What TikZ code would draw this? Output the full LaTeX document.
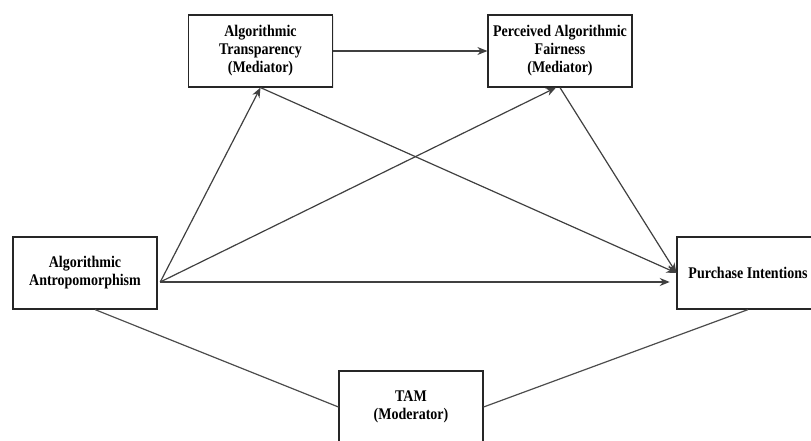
\documentclass[tikz,border=0pt]{standalone}
\usepackage{fontspec}
\setmainfont{Liberation Serif}
\newfontfamily\boxfont[FakeStretch=0.86]{Liberation Serif}
\usetikzlibrary{arrows.meta,shadows}
\tikzset{
  box/.style={draw=black!85, line width=0.9pt, fill=white, minimum width=108pt, minimum height=54pt,
    inner sep=2pt, align=center, font=\boxfont\bfseries\fontsize{12.2}{13.5}\selectfont,
    drop shadow={opacity=0.18, shadow xshift=1pt, shadow yshift=-1pt}},
  arr/.style={draw=black!75, line width=0.9pt, -{Stealth[length=7.5pt,width=6pt]}},
  link/.style={draw=black!70, line width=0.9pt}
}
\begin{document}
\begin{tikzpicture}[x=0.75pt,y=-0.75pt]
\path[use as bounding box] (0,0) rectangle (811,441);
\clip (0,0) rectangle (811,441);
\node[box] (A) at (85,273) {Algorithmic\\Antropomorphism};
\node[box] (T) at (260.5,51) {Algorithmic\\Transparency\\(Mediator)};
\node[box] (F) at (560,51) {Perceived Algorithmic\\Fairness\\(Mediator)};
\node[box, minimum width=106.5pt] (P) at (748,273) {Purchase Intentions};
\node[box] (M) at (411,407) {TAM\\(Moderator)};
\coordinate (Aout) at ([xshift=2pt,yshift=-6.75pt]A.east);
\draw[arr] (Aout) -- (T.south);
\draw[arr] (Aout) -- ([xshift=-3pt]F.south);
\draw[arr, shorten >=5pt] (Aout) -- (Aout -| P.west);
\draw[arr] (T.south) -- (P.west);
\draw[arr] (F.south) -- (P.west);
\draw[arr] (T.east) -- (F.west);
\draw[link] ([xshift=7.5pt]A.south) -- (M.west);
\draw[link] (P.south) -- (M.east);
\end{tikzpicture}
\end{document}
